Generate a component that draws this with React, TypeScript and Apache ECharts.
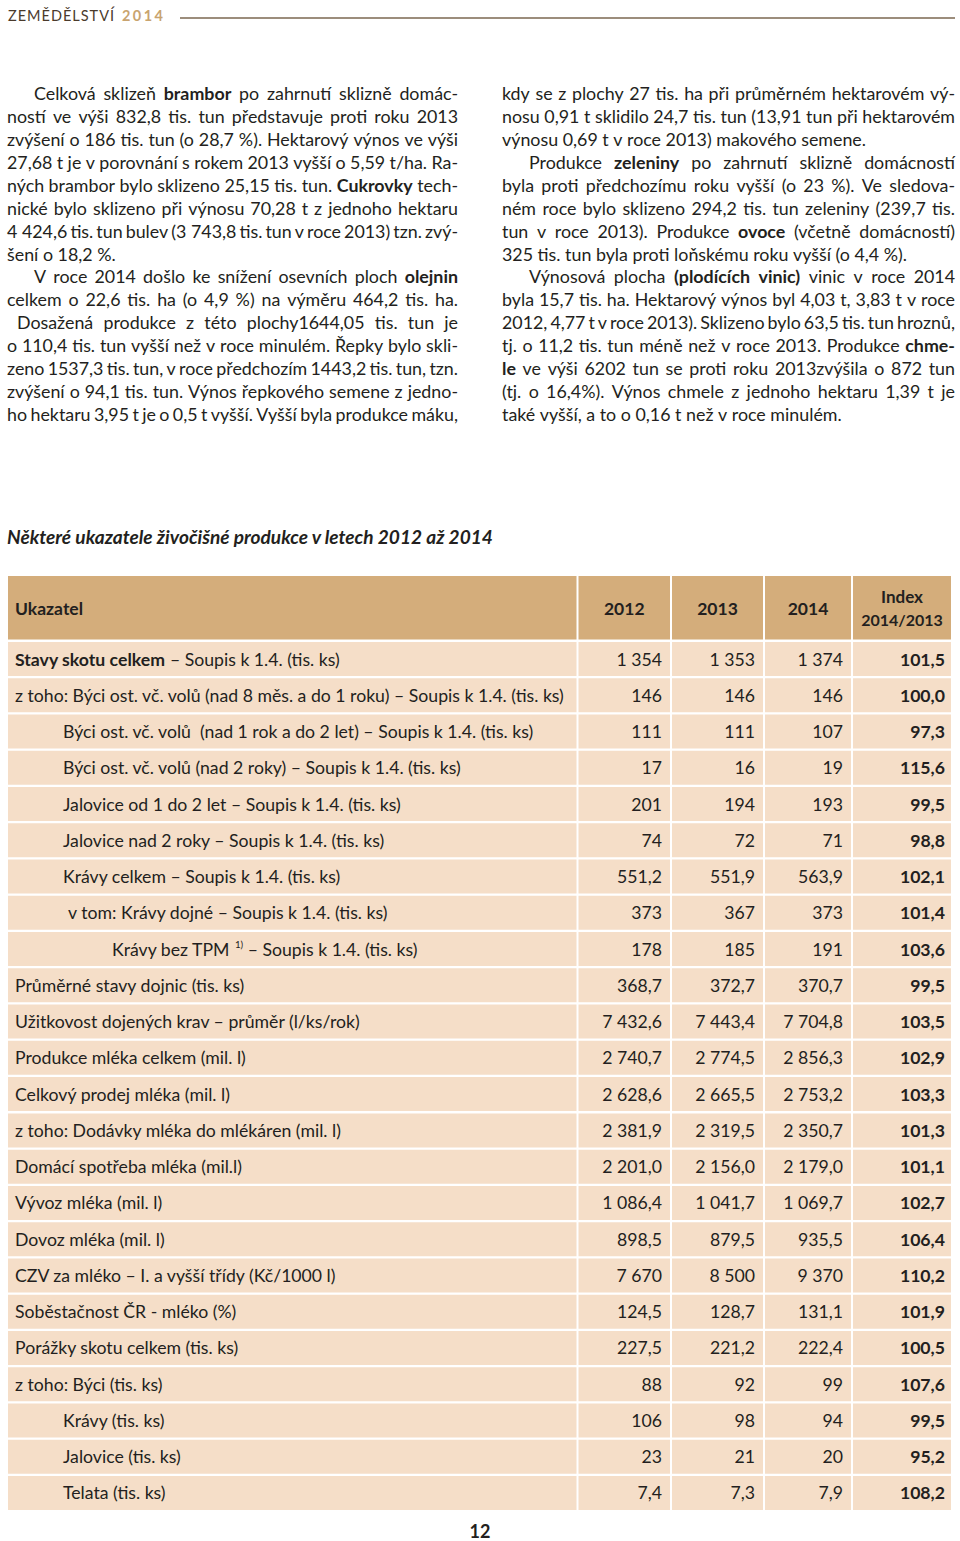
import React, { useEffect, useRef } from "react";
import * as echarts from "echarts";

const FONT = 'Lato, "Noto Sans", "DejaVu Sans", sans-serif';
const INK = "#231f20";

// ---- paragraph text (">" = indent, "~" = small indent, "|" at end = last line, *...* = bold)
const col1Lines = [
  ">Celková sklizeň *brambor* po zahrnutí sklizně domác-",
  "ností ve výši 832,8 tis. tun představuje proti roku 2013",
  "zvýšení o 186 tis. tun (o 28,7 %). Hektarový výnos ve výši",
  "27,68 t je v porovnání s rokem 2013 vyšší o 5,59 t/ha. Ra-",
  "ných brambor bylo sklizeno 25,15 tis. tun. *Cukrovky* tech-",
  "nické bylo sklizeno při výnosu 70,28 t z jednoho hektaru",
  "4\u00a0424,6 tis. tun bulev (3\u00a0743,8 tis. tun v roce 2013) tzn. zvý-",
  "šení o 18,2 %.|",
  ">V roce 2014 došlo ke snížení osevních ploch *olejnin*",
  "celkem o 22,6 tis. ha (o 4,9 %) na výměru 464,2 tis. ha.",
  "~Dosažená produkce z této plochy1644,05 tis. tun je",
  "o 110,4 tis. tun vyšší než v roce minulém. Řepky bylo skli-",
  "zeno 1537,3 tis. tun, v roce předchozím 1443,2 tis. tun, tzn.",
  "zvýšení o 94,1 tis. tun. Výnos řepkového semene z jedno-",
  "ho hektaru 3,95 t je o 0,5 t vyšší. Vyšší byla produkce máku,",
];
const col2Lines = [
  "kdy se z plochy 27 tis. ha při průměrném hektarovém vý-",
  "nosu 0,91 t sklidilo 24,7 tis. tun (13,91 tun při hektarovém",
  "výnosu 0,69 t v roce 2013) makového semene.|",
  ">Produkce *zeleniny* po zahrnutí sklizně domácností",
  "byla proti předchozímu roku vyšší (o 23 %). Ve sledova-",
  "ném roce bylo sklizeno 294,2 tis. tun zeleniny (239,7 tis.",
  "tun v roce 2013). Produkce *ovoce* (včetně domácností)",
  "325 tis. tun byla proti loňskému roku vyšší (o 4,4 %).|",
  ">Výnosová plocha *(plodících vinic)* vinic v roce 2014",
  "byla 15,7 tis. ha. Hektarový výnos byl 4,03 t, 3,83 t v roce",
  "2012, 4,77 t v roce 2013). Sklizeno bylo 63,5 tis. tun hroznů,",
  "tj. o 11,2 tis. tun méně než v roce 2013. Produkce *chme-*",
  "*le* ve výši 6202 tun se proti roku 2013zvýšila o 872 tun",
  "(tj. o 16,4%). Výnos chmele z jednoho hektaru 1,39 t je",
  "také vyšší, a to o 0,16 t než v roce minulém.|",
];

// ---- table
const tableTitle = "Některé ukazatele živočišné produkce v letech 2012 až 2014";
const headerLabels = ["Ukazatel", "2012", "2013", "2014"];
const indexHeader = ["Index", "2014/2013"];
const rowLabels = [
  "*Stavy skotu celkem* – Soupis k 1.4. (tis. ks)",
  "z toho: Býci ost. vč. volů (nad 8 měs. a do 1 roku) – Soupis k 1.4. (tis. ks)",
  "Býci ost. vč. volů  (nad 1 rok a do 2 let) – Soupis k 1.4. (tis. ks)",
  "Býci ost. vč. volů (nad 2 roky) – Soupis k 1.4. (tis. ks)",
  "Jalovice od 1 do 2 let – Soupis k 1.4. (tis. ks)",
  "Jalovice nad 2 roky – Soupis k 1.4. (tis. ks)",
  "Krávy celkem – Soupis k 1.4. (tis. ks)",
  "v tom: Krávy dojné – Soupis k 1.4. (tis. ks)",
  "Krávy bez TPM ^1)^ – Soupis k 1.4. (tis. ks)",
  "Průměrné stavy dojnic (tis. ks)",
  "Užitkovost dojených krav – průměr (l/ks/rok)",
  "Produkce mléka celkem (mil. l)",
  "Celkový prodej mléka (mil. l)",
  "z toho: Dodávky mléka do mlékáren (mil. l)",
  "Domácí spotřeba mléka (mil.l)",
  "Vývoz mléka (mil. l)",
  "Dovoz mléka (mil. l)",
  "CZV za mléko – I. a vyšší třídy (Kč/1000 l)",
  "Soběstačnost ČR - mléko (%)",
  "Porážky skotu celkem (tis. ks)",
  "z toho: Býci (tis. ks)",
  "Krávy (tis. ks)",
  "Jalovice (tis. ks)",
  "Telata (tis. ks)",
];
const rowIndent = [0, 0, 1, 1, 1, 1, 1, 2, 3, 0, 0, 0, 0, 0, 0, 0, 0, 0, 0, 0, 0, 1, 1, 1];
const v2012 = [1354, 146, 111, 17, 201, 74, 551.2, 373, 178, 368.7, 7432.6, 2740.7, 2628.6, 2381.9, 2201.0, 1086.4, 898.5, 7670, 124.5, 227.5, 88, 106, 23, 7.4];
const v2013 = [1353, 146, 111, 16, 194, 72, 551.9, 367, 185, 372.7, 7443.4, 2774.5, 2665.5, 2319.5, 2156.0, 1041.7, 879.5, 8500, 128.7, 221.2, 92, 98, 21, 7.3];
const v2014 = [1374, 146, 107, 19, 193, 71, 563.9, 373, 191, 370.7, 7704.8, 2856.3, 2753.2, 2350.7, 2179.0, 1069.7, 935.5, 9370, 131.1, 222.4, 99, 94, 20, 7.9];
const index1413 = [101.5, 100.0, 97.3, 115.6, 99.5, 98.8, 102.1, 101.4, 103.6, 99.5, 103.5, 102.9, 103.3, 101.3, 101.1, 102.7, 106.4, 110.2, 101.9, 100.5, 107.6, 99.5, 95.2, 108.2];
const decimals = [0, 0, 0, 0, 0, 0, 1, 0, 0, 1, 1, 1, 1, 1, 1, 1, 1, 0, 1, 1, 0, 0, 0, 1];

function fmt(v: number, d: number): string {
  const s = v.toFixed(d);
  const [i, f] = s.split(".");
  const ii = i.replace(/\B(?=(\d{3})+(?!\d))/g, " ");
  return f ? ii + "," + f : ii;
}

export default function App() {
  const ref = useRef<HTMLDivElement>(null);
  useEffect(() => {
    document.body.style.margin = "0";
    if (!ref.current) return;
    const cv = document.createElement("canvas");
    const ctx = cv.getContext("2d")!;
    const measure = (t: string, size: number, bold = false, italic = false) => {
      ctx.font = `${italic ? "italic " : ""}${bold ? "bold " : ""}${size}px ${FONT}`;
      return ctx.measureText(t).width;
    };
    const els: any[] = [];
    const txt = (t: string, x: number, y: number, size: number, o: any = {}) => {
      els.push({
        type: "text",
        x,
        y,
        silent: true,
        style: {
          text: t,
          fontSize: size,
          fontFamily: FONT,
          fontWeight: o.bold ? "bold" : "normal",
          fontStyle: o.italic ? "italic" : "normal",
          fill: o.fill || INK,
          textAlign: o.align || "left",
          align: o.align || "left",
          textVerticalAlign: "middle",
          verticalAlign: "middle",
        },
      });
    };

    // ---- running header (letter-spaced)
    const hdrSize = 14.5;
    const spaced = (t: string, x0: number, x1: number, size: number, bold: boolean, fill: string) => {
      const chars = Array.from(t);
      const w = chars.reduce((a, c) => a + measure(c, size, bold), 0);
      const sp = chars.length > 1 ? (x1 - x0 - w) / (chars.length - 1) : 0;
      let x = x0;
      chars.forEach((c) => {
        txt(c, x, 15, size, { bold, fill });
        x += measure(c, size, bold) + sp;
      });
    };
    spaced("ZEMĚDĚLSTVÍ", 8, 114, hdrSize, false, "#4a3a2c");
    spaced("2014", 122, 163, hdrSize, true, "#c9a46f");
    els.push({ type: "line", silent: true, shape: { x1: 180, y1: 18, x2: 955, y2: 18 }, style: { stroke: "#7b6751", lineWidth: 1.5 } });

    // ---- paragraphs
    const pSize = 16 * 340 / measure("také vyšší, a to o 0,16 t než v roce minulém.", 16);
    const lineY0 = 93;
    const lineStep = 22.93;
    const buildCol = (lines: string[], x0: number, width: number) => {
      lines.forEach((raw, li) => {
        let s = raw;
        let indent = 0;
        let justify = true;
        if (s.startsWith(">")) { indent = 27; s = s.slice(1); }
        else if (s.startsWith("~")) { indent = 10; s = s.slice(1); }
        if (s.endsWith("|")) { justify = false; s = s.slice(0, -1); }
        const words = s.split(/ +/).filter(Boolean);
        let bold = false;
        const parsed = words.map((w) => {
          const segs: { t: string; b: boolean }[] = [];
          w.split("*").forEach((p, i) => {
            if (i > 0) bold = !bold;
            if (p) segs.push({ t: p, b: bold });
          });
          return segs;
        });
        const widths = parsed.map((sg) => sg.reduce((a, q) => a + measure(q.t, pSize, q.b), 0));
        const total = widths.reduce((a, b) => a + b, 0);
        const avail = width - indent;
        const gap = justify && words.length > 1 ? (avail - total) / (words.length - 1) : measure(" ", pSize);
        let x = x0 + indent;
        const y = lineY0 + li * lineStep;
        parsed.forEach((segs, i) => {
          let xx = x;
          segs.forEach((q) => {
            txt(q.t, xx, y, pSize, { bold: q.b });
            xx += measure(q.t, pSize, q.b);
          });
          x += widths[i] + gap;
        });
      });
    };
    buildCol(col1Lines, 7, 451);
    buildCol(col2Lines, 502, 453);

    // ---- table title
    const tSize = 16 * 487 / measure(tableTitle, 16, true, true);
    txt(tableTitle, 7, 536, tSize, { bold: true, italic: true });

    // ---- table geometry
    const cols = [[8, 576.5], [578.5, 670], [672, 763], [765, 851], [853, 951]];
    const headTop = 576, headH = 63.5;
    const rowTop0 = 642, rowStep = 36.26, rowH = 34;
    const HEAD = "#d4ad7b", ROW = "#f5dec8";
    cols.forEach(([a, b]) => {
      els.push({ type: "rect", silent: true, shape: { x: a, y: headTop, width: b - a, height: headH }, style: { fill: HEAD } });
    });
    const hc = headTop + headH / 2;
    txt(headerLabels[0], 15, hc + 1, 17.5, { bold: true });
    for (let c = 1; c <= 3; c++) txt(headerLabels[c], (cols[c][0] + cols[c][1]) / 2, hc + 1, 17.5, { bold: true, align: "center" });
    txt(indexHeader[0], (cols[4][0] + cols[4][1]) / 2, hc - 11, 17, { bold: true, align: "center" });
    txt(indexHeader[1], (cols[4][0] + cols[4][1]) / 2, hc + 12, 16, { bold: true, align: "center" });

    const lSize = 16 * 550 / measure(rowLabels[1], 16);
    const indentX = [15, 63, 68, 112];
    rowLabels.forEach((lab, r) => {
      const top = rowTop0 + r * rowStep;
      const cy = top + rowH / 2;
      cols.forEach(([a, b]) => {
        els.push({ type: "rect", silent: true, shape: { x: a, y: top, width: b - a, height: rowH }, style: { fill: ROW } });
      });
      let x = indentX[rowIndent[r]];
      lab.split(/(\*[^*]+\*|\^[^^]+\^)/).filter(Boolean).forEach((seg) => {
        if (seg.startsWith("*")) {
          const t = seg.slice(1, -1);
          txt(t, x, cy, lSize, { bold: true });
          x += measure(t, lSize, true);
        } else if (seg.startsWith("^")) {
          const t = seg.slice(1, -1);
          const ss = lSize * 0.55;
          txt(t, x, cy - 5, ss);
          x += measure(t, ss);
        } else {
          txt(seg, x, cy, lSize);
          x += measure(seg, lSize);
        }
      });
      const d = decimals[r];
      txt(fmt(v2012[r], d), cols[1][1] - 8, cy, lSize, { align: "right" });
      txt(fmt(v2013[r], d), cols[2][1] - 8, cy, lSize, { align: "right" });
      txt(fmt(v2014[r], d), cols[3][1] - 8, cy, lSize, { align: "right" });
      txt(fmt(index1413[r], 1), cols[4][1] - 6, cy, lSize, { align: "right", bold: true });
    });

    // ---- page number
    txt("12", 480, 1531, 18, { bold: true, align: "center" });

    const chart = echarts.init(ref.current, null, { renderer: "svg" });
    chart.setOption({ animation: false, backgroundColor: "#ffffff", graphic: { elements: els } });
    return () => chart.dispose();
  }, []);
  return <div ref={ref} style={{ width: 960, height: 1541 }} />;
}
